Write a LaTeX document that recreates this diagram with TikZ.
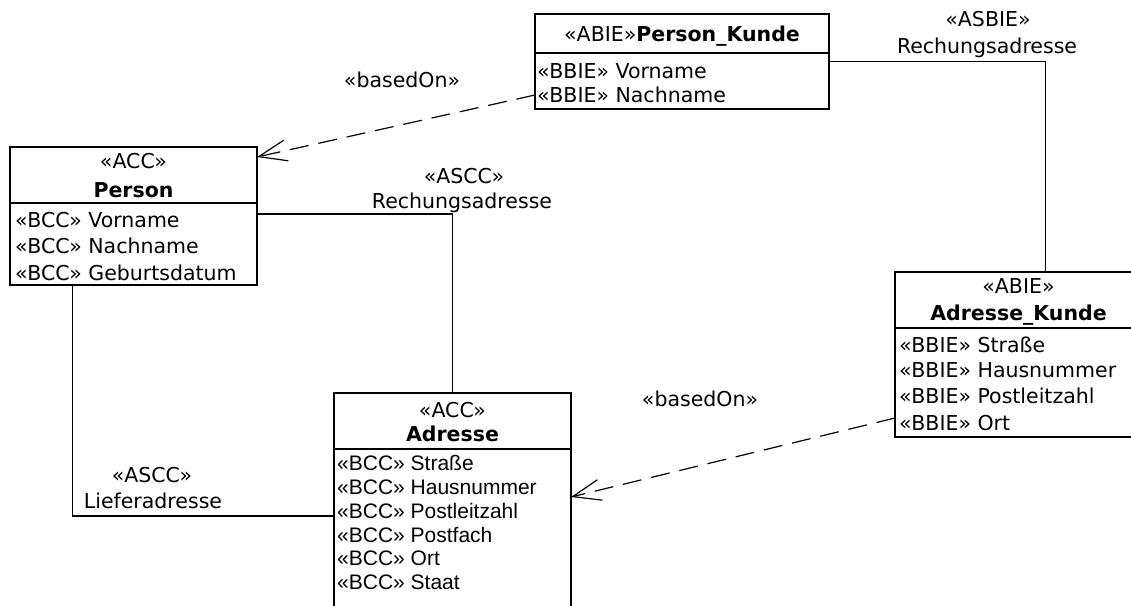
\documentclass[tikz,border=0pt]{standalone}
\usepackage{fontspec}
\setmainfont{DejaVu Sans}
\newfontfamily\arialfont{Liberation Sans}
\usetikzlibrary{arrows.meta}

\tikzset{
  classbox/.style={draw, line width=1.5pt, inner sep=0pt, outer sep=0pt, fill=white},
  sepline/.style={line width=1.3pt},
  txt/.style={inner sep=0pt, font=\fontsize{20.5}{24}\selectfont},
  attr/.style={txt, anchor=base west},
  head/.style={txt, anchor=base},
  attrarial/.style={attr, font=\arialfont\fontsize{21}{24}\selectfont},
  assoc/.style={line width=1.4pt},
  basedon/.style={line width=1.2pt, dash pattern=on 19pt off 10pt,
    -{Straight Barb[length=28pt, width=21pt, line width=1.2pt]}},
  lbl/.style={txt, anchor=base}
}

\begin{document}
\begin{tikzpicture}[x=1pt, y=-1pt]
\useasboundingbox (0,0) rectangle (1131,605);
\fill[white] (0,0) rectangle (1131,605);

% ---- class boxes ----
\node[classbox, anchor=north west, minimum width=294pt, minimum height=95pt] (pk) at (535,14) {};
\node[classbox, anchor=north west, minimum width=247pt, minimum height=138pt] (pe) at (10,147) {};
\node[classbox, anchor=north west, minimum width=237pt, minimum height=246pt] (ad) at (334,393) {};
\node[classbox, anchor=north west, minimum width=247pt, minimum height=165pt] (ak) at (895,272) {};

% compartment separators
\draw[sepline] (535,53) -- (829,53);
\draw[sepline] (10,203) -- (257,203);
\draw[sepline] (334,449) -- (571,449);
\draw[sepline] (895,328) -- (1142,328);

% ---- Person_Kunde ----
\node[head] (pkh) at (682,41) {«ABIE»\textbf{Person\_Kunde}};
\node[attr] (pk1) at (537,78) {«BBIE» Vorname};
\node[attr] (pk2) at (537,102) {«BBIE» Nachname};

% ---- Person ----
\node[head] (peh1) at (133.5,168) {«ACC»};
\node[head] (peh2) at (133.5,197) {\textbf{Person}};
\node[attr] (pe1) at (15,227) {«BCC» Vorname};
\node[attr] (pe2) at (15,253.5) {«BCC» Nachname};
\node[attr] (pe3) at (15,280) {«BCC» Geburtsdatum};

% ---- Adresse ----
\node[head] (adh1) at (452.5,417) {«ACC»};
\node[head] (adh2) at (452.5,441) {\textbf{Adresse}};
\node[attrarial] (ad1) at (337,470) {«BCC» Straße};
\node[attrarial] (ad2) at (337,494.5) {«BCC» Hausnummer};
\node[attrarial] (ad3) at (337,518) {«BCC» Postleitzahl};
\node[attrarial] (ad4) at (337,542) {«BCC» Postfach};
\node[attrarial] (ad5) at (337,565.5) {«BCC» Ort};
\node[attrarial] (ad6) at (337,589.5) {«BCC» Staat};

% ---- Adresse_Kunde ----
\node[head] (akh1) at (1018.5,293) {«ABIE»};
\node[head] (akh2) at (1018.5,320) {\textbf{Adresse\_Kunde}};
\node[attr] (ak1) at (899,352) {«BBIE» Straße};
\node[attr] (ak2) at (899,377) {«BBIE» Hausnummer};
\node[attr] (ak3) at (899,403) {«BBIE» Postleitzahl};
\node[attr] (ak4) at (899,430) {«BBIE» Ort};

% ---- associations ----
\draw[assoc] (pk.east) -| ([xshift=27pt]ak.north);
\draw[assoc] ([yshift=2pt]pe.east) -| (ad.north);
\draw[assoc] ([xshift=-61pt]pe.south) |- (ad.west);

% ---- basedOn dependencies ----
\draw[basedon] ([yshift=-33.5pt]pk.west) -- ([yshift=59pt]pe.east);
\draw[basedon] ([yshift=-63.5pt]ak.west) -- ([yshift=19pt]ad.east);

% ---- connector labels ----
\node[lbl] (l1) at (402,87) {«basedOn»};
\node[lbl] (l2a) at (988,27) {«ASBIE»};
\node[lbl] (l2b) at (987,53) {Rechungsadresse};
\node[lbl] (l3a) at (464,183) {«ASCC»};
\node[lbl] (l3b) at (462,208) {Rechungsadresse};
\node[lbl] (l4a) at (152,482) {«ASCC»};
\node[lbl] (l4b) at (153,508) {Lieferadresse};
\node[lbl] (l5) at (700,406) {«basedOn»};
\end{tikzpicture}
\end{document}
